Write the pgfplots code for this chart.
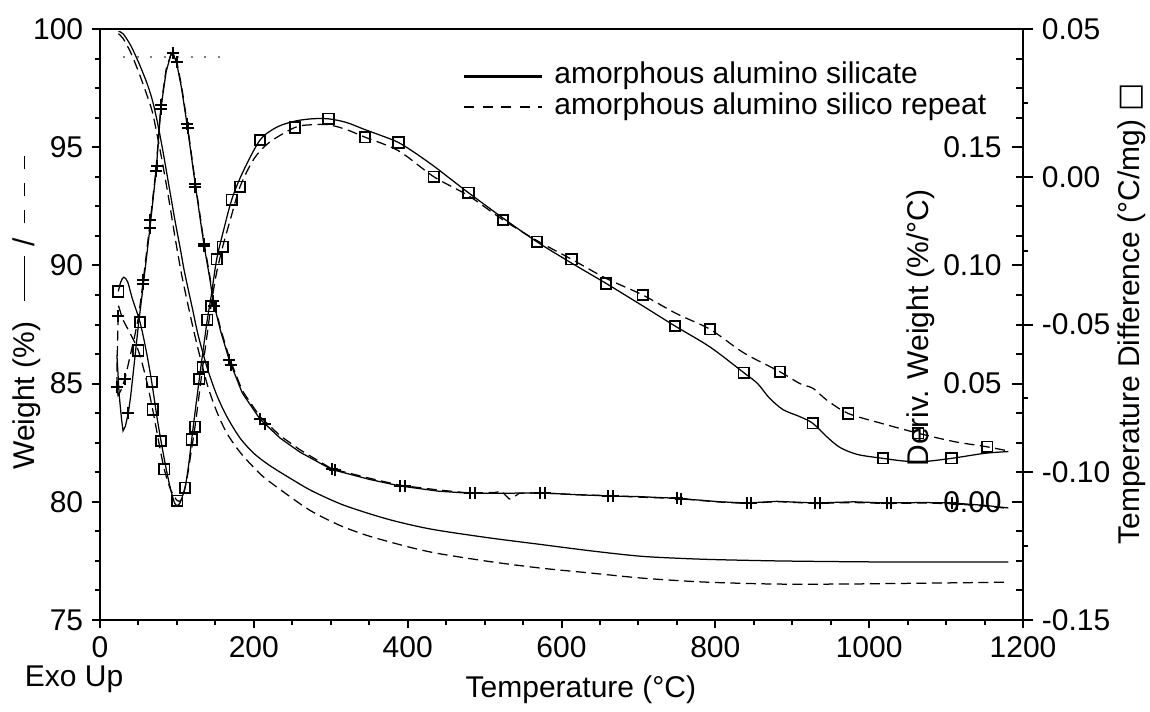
\documentclass[border=0pt]{standalone}
\usepackage{pgfplots}
\pgfplotsset{compat=1.18}
\usepackage{fontspec}
\setmainfont{Liberation Sans}
\newfontfamily\dejavu{DejaVu Sans}
\newcommand{\fs}{\fontsize{12}{14}\selectfont}
\newcommand{\sd}{\rule[0.32em]{0.45em}{0.6pt}}
\begin{document}
\begin{tikzpicture}
\path[use as bounding box] (-40pt,-36.4pt) rectangle (420pt,248pt);
\pgfplotsset{
  every axis/.append style={
    width=369.2pt, height=236.4pt, scale only axis,
    xmin=0, xmax=1200, at={(0pt,0pt)}, anchor=south west,
    font=\fs, /pgf/number format/assume math mode=true,
    /pgf/number format/1000 sep={},
    axis line style={line width=0.9pt},
    tick style={black, line width=0.8pt},
    clip=false,
  },
}
% ---------------- Weight axis ----------------
\begin{axis}[
  axis lines*=left,
  ymin=75, ymax=100,
  xtick={0,200,...,1200}, ytick={75,80,...,100},
  minor x tick num=3, minor y tick num=3,
  tick align=outside, major tick length=3.2pt, minor tick length=2pt,
  legend style={draw=none, fill=none, at={(0.385,0.955)}, anchor=north west,
    font=\fs, column sep=4pt, row sep=0pt,
    nodes={inner sep=0.5pt, text height=8.5pt, text depth=2.8pt}},
  legend cell align=left,
  legend image code/.code={\draw[#1] (0pt,0pt) -- (31pt,0pt);},
]
\addlegendimage{black, line width=0.9pt}
\addlegendentry{amorphous alumino silicate}
\addlegendimage{black, line width=0.9pt, dash pattern=on 4pt off 3.4pt}
\addlegendentry{amorphous alumino silico repeat}
% weight, solid
\addplot[black, line width=0.5pt, smooth] coordinates {
(24,99.9) (30,99.8) (40,99.3) (50,98.6) (60,97.8) (68,97.0) (75,96.0) (82,94.8)
(90,93.3) (97.5,91.9) (105,90.6) (110,89.7) (120,88.2) (128,87.0) (140,85.6)
(152,84.5) (165,83.6) (182,82.7) (200,82.05) (220,81.55) (247,81.0) (275,80.47)
(312,79.92) (345,79.55) (377,79.24) (410,78.98) (442,78.78) (507,78.47) (572,78.2)
(637,77.93) (702,77.7) (760,77.6) (806,77.55) (880,77.5) (960,77.47) (1050,77.45) (1181,77.45)
};
% weight, dashed
\addplot[black, line width=0.5pt, smooth, dash pattern=on 4pt off 2.2pt] coordinates {
(24,99.8) (30,99.6) (40,99.0) (50,98.2) (60,97.3) (68,96.5) (75,95.4) (82,94.2)
(90,92.7) (97.5,91.2) (105,89.8) (110,89.0) (120,87.5) (128,86.4) (140,84.9)
(152,83.8) (165,82.9) (182,82.1) (200,81.45) (214.5,81.0) (247,80.22) (275,79.6)
(312,79.0) (345,78.6) (377,78.3) (410,78.02) (442,77.8) (507,77.47) (572,77.2)
(637,76.99) (702,76.78) (760,76.65) (806,76.58) (880,76.52) (960,76.52) (1050,76.55) (1181,76.6)
};
\node[rotate=90] at (rel axis cs:-0.079,0.52) {Weight (\%)\hspace{0.7em}\rule[0.32em]{1.5em}{0.6pt}\hspace{0.3em}/\hspace{0.5em}\sd\hspace{0.45em}\sd\hspace{0.45em}\sd};
\node at (rel axis cs:0.521,-0.118) {Temperature (°C)};
\node at (rel axis cs:-0.028,-0.1) {Exo Up};
\node[rotate=90] at (rel axis cs:0.8895,0.494) {Deriv. Weight (\%/°C)};
\node[rotate=90] at (rel axis cs:1.118,0.518) {Temperature Difference (°C/mg) {\dejavu □}};
\end{axis}
% ---------------- Deriv. weight axis ----------------
\begin{axis}[
  axis y line*=right, axis x line*=top, xtick=\empty,
  ymin=-0.05, ymax=0.20,
  ytick={-0.05,0,0.05,0.10,0.15,0.20},
  yticklabels={,0.00,0.05,0.10,0.15,},
  minor y tick num=3,
  tick align=inside, major tick length=4.6pt, minor tick length=2.7pt,
  yticklabel style={anchor=east, xshift=-5pt},
]
% dotted reference line
\addplot[gray, line width=0.6pt, dash pattern=on 0.8pt off 4.6pt] coordinates {(30,0.1882) (160,0.1882)};
% deriv, solid
\addplot[black, line width=0.5pt] coordinates {
(22,0.062) (25,0.045) (28,0.035) (30,0.030) (33,0.032) (36.8,0.0375) (40,0.045) (45,0.060)
(50,0.075) (56,0.091) (65,0.116) (73,0.140) (79,0.166) (86,0.182) (92,0.189) (95.3,0.1897)
(100,0.185) (106,0.175) (113,0.160) (123.5,0.135) (135,0.109) (143,0.094) (147,0.085)
(157,0.072) (168,0.060) (185,0.046) (208,0.035) (234,0.027) (260,0.021) (301,0.0137)
(350,0.0095) (390,0.0067) (440,0.0045) (481,0.0036) (520,0.0036) (572,0.0038) (620,0.003)
(661,0.0025) (700,0.0022) (750,0.0015) (806,0.0000) (841,-0.0005) (880,0.0002) (930,-0.0005)
(980,0.0) (1023,-0.0005) (1070,-0.0003) (1108,-0.0005) (1150,-0.0015) (1181,-0.0026)
};
% deriv, dashed
\addplot[black, line width=0.5pt, dash pattern=on 4pt off 2.2pt] coordinates {
(23.5,0.079) (23,0.070) (22.3,0.060) (22,0.0485) (23.5,0.045) (27,0.047) (32.5,0.052)
(38,0.060) (45,0.070) (50,0.078) (56,0.093) (65,0.118) (73,0.141) (79,0.167) (86,0.183)
(92,0.189) (96,0.1895) (100,0.186) (106,0.176) (113,0.161) (123.5,0.136) (135,0.110)
(143,0.095) (147,0.086) (157,0.073) (168,0.061) (185,0.047) (208,0.036) (234,0.028)
(260,0.022) (301,0.014) (350,0.010) (390,0.007) (440,0.005) (481,0.0037) (515,0.0040)
(522,0.0046) (528,0.0025) (532,0.0012) (537,0.0018) (545,0.0036) (572,0.0038) (620,0.0030)
(661,0.0026) (700,0.0020) (750,0.0014) (806,-0.0001) (841,-0.0007) (880,0.0001) (930,-0.0007)
(980,-0.0003) (1023,-0.0007) (1070,-0.0005) (1108,-0.0008) (1150,-0.0018) (1181,-0.0028)
};
% deriv markers
\addplot[only marks, mark=+, mark size=2.4pt, mark options={black, line width=0.8pt}] coordinates {
(36.8,0.0375) (56,0.092) (65,0.116) (73,0.140) (79,0.166) (95.3,0.1897) (113,0.160)
(123.5,0.1345) (135,0.109) (147,0.085) (168,0.060) (208,0.035) (301,0.0137) (390,0.0067)
(481,0.0036) (572,0.0038) (661,0.0025) (750,0.0015) (841,-0.0005) (930,-0.0005)
(1023,-0.0005) (1108,-0.0005)
};
\addplot[only marks, mark=+, mark size=2.4pt, mark options={black, line width=0.8pt}] coordinates {
(23.5,0.0786) (22,0.0485) (32.5,0.052) (56.5,0.094) (65.5,0.119) (73.5,0.142) (79.5,0.168)
(99.7,0.186) (114,0.158) (124,0.133) (135.5,0.108) (148,0.083) (170,0.058) (214,0.033)
(306,0.0135) (396,0.0066) (488,0.0037) (578,0.0037) (667,0.0025) (756,0.0014) (847,-0.0006)
(936,-0.0006) (1029,-0.0007) (1114,-0.0008)
};
\end{axis}
% ---------------- Temperature difference axis ----------------
\begin{axis}[
  axis y line*=right, axis x line=none,
  ymin=-0.15, ymax=0.05,
  ytick={-0.15,-0.10,-0.05,0,0.05},
  yticklabels={-0.15,-0.10,-0.05,0.00,0.05},
  minor y tick num=1,
  tick align=outside, major tick length=4pt, minor tick length=2pt,
]
% TD, solid
\addplot[black, line width=0.5pt, smooth] coordinates {
(23.8,-0.0388) (27,-0.0356) (31,-0.034) (36,-0.0356) (42,-0.0412) (52,-0.0492) (60,-0.0588)
(67.2,-0.0694) (74,-0.0812) (79.3,-0.0894) (86,-0.0988) (92,-0.106) (97,-0.1104) (100,-0.1112)
(104,-0.1104) (110.5,-0.1052) (115,-0.098) (119.2,-0.0889) (124,-0.0788) (129.1,-0.0684)
(134,-0.0588) (139.5,-0.0484) (145,-0.0396) (151.7,-0.0279) (160,-0.0188) (171.2,-0.0078)
(185,0.0012) (208,0.0124) (230,0.0168) (253,0.0188) (275,0.0196) (297,0.0196) (320,0.0184)
(344,0.016) (365,0.014) (388,0.0116) (410,0.008) (434,0.0036) (456,-0.0008) (479,-0.0054)
(524,-0.014) (568,-0.022) (613,-0.0292) (658,-0.0361) (705,-0.0436) (747.5,-0.0505)
(793,-0.0576) (837,-0.0663) (855,-0.070) (870,-0.0748) (888,-0.0788) (910,-0.0812)
(926.5,-0.0834) (945,-0.088) (962,-0.0916) (985,-0.094) (1018,-0.0953) (1045,-0.0962)
(1070,-0.0964) (1107,-0.0953) (1150,-0.0936) (1181,-0.093)
};
% TD, dashed
\addplot[black, line width=0.5pt, smooth, dash pattern=on 4pt off 2.2pt] coordinates {
(24,-0.0436) (30,-0.0484) (38,-0.0524) (49.8,-0.0588) (60,-0.0684) (68.5,-0.0788)
(76,-0.0892) (83.6,-0.099) (92,-0.106) (100.5,-0.1096) (106,-0.1092) (112,-0.1036)
(118,-0.094) (123.5,-0.0846) (128,-0.0756) (133.5,-0.0644) (139,-0.054) (144.3,-0.0438)
(151,-0.0332) (159.5,-0.0237) (170,-0.014) (182,-0.0034) (200,0.006) (220,0.0116)
(253.5,0.0167) (275,0.0176) (297,0.0176) (320,0.016) (344.5,0.0134) (388,0.0088)
(434,0.0) (479,-0.0064) (524,-0.0146) (568,-0.0216) (613,-0.0279) (658,-0.0344)
(705.5,-0.04) (750,-0.0464) (793,-0.0516) (837,-0.0596) (884,-0.066) (910,-0.07)
(927,-0.0716) (945,-0.0756) (972.8,-0.0801) (1018,-0.0836) (1063.8,-0.0868)
(1110,-0.0896) (1153.5,-0.0914) (1181,-0.0928)
};
% TD markers
\addplot[only marks, mark=square, mark size=2.1pt, mark options={black, line width=0.7pt}] coordinates {
(23.8,-0.0388) (52,-0.0492) (67.2,-0.0694) (79.3,-0.0894) (110.5,-0.1052) (119.2,-0.0889)
(129.1,-0.0684) (139.5,-0.0484) (151.7,-0.0279) (171.2,-0.0078) (208,0.0124) (297,0.0196)
(388,0.0116) (479,-0.0054) (568,-0.022) (658,-0.0361) (747.5,-0.0505) (837,-0.0663)
(926.5,-0.0834) (1018,-0.0953) (1107,-0.0953)
};
\addplot[only marks, mark=square, mark size=2.1pt, mark options={black, line width=0.7pt}] coordinates {
(49.8,-0.0588) (68.5,-0.0788) (83.6,-0.099) (100.5,-0.1096) (123.5,-0.0846) (133.5,-0.0644)
(144.3,-0.0438) (159.5,-0.0237) (182,-0.0034) (253.5,0.0167) (344.5,0.0134) (434,0.0)
(524,-0.0146) (613,-0.0279) (705.5,-0.04) (793,-0.0516) (884,-0.066) (972.8,-0.0801)
(1063.8,-0.0868) (1153.5,-0.0914)
};
\end{axis}
\end{tikzpicture}
\end{document}
